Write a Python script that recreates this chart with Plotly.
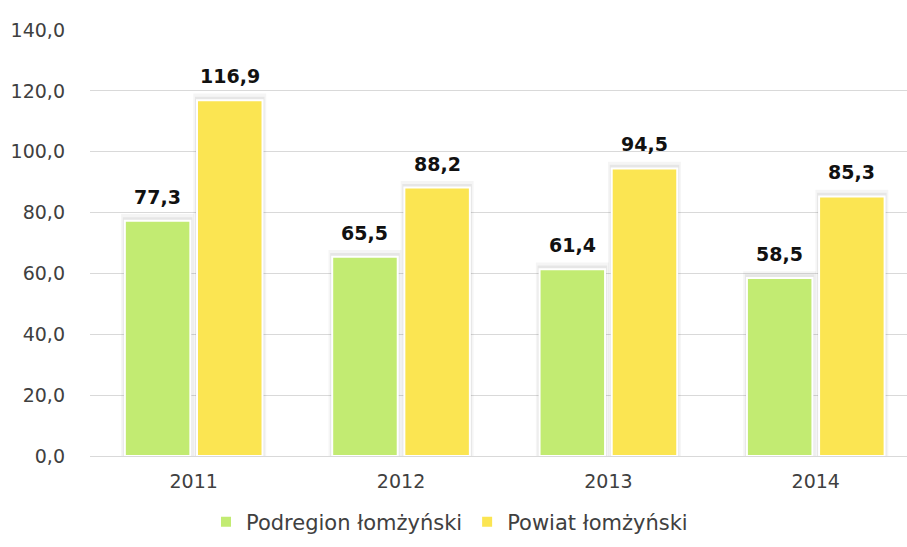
import plotly.graph_objects as go

years = ["2011", "2012", "2013", "2014"]
podregion = [77.3, 65.5, 61.4, 58.5]
powiat = [116.9, 88.2, 94.5, 85.3]
series_names = ["Podregion łomżyński", "Powiat łomżyński"]
y_ticks = [0, 20, 40, 60, 80, 100, 120, 140]

FONT = "'DejaVu Sans', sans-serif"
GREEN = "#C2EB72"
YELLOW = "#FBE552"
BW = 0.316
OFF_G = -0.332
OFF_Y = 0.016
PAD = 0.018

fig = go.Figure()

# soft shadows behind bars
for vals, off in [(podregion, OFF_G), (powiat, OFF_Y)]:
    for k, a in [(2.2, 0.04), (1.2, 0.06)]:
        fig.add_trace(go.Bar(
            x=years, y=[v + k for v in vals], width=BW + 2 * PAD * k / 2.2,
            offset=off - PAD * k / 2.2,
            marker=dict(color=f"rgba(0,0,0,{a})", line=dict(width=0)),
            showlegend=False, hoverinfo="skip",
        ))

for vals, off, col, name in [(podregion, OFF_G, GREEN, series_names[0]),
                             (powiat, OFF_Y, YELLOW, series_names[1])]:
    fig.add_trace(go.Bar(
        x=years, y=vals, width=BW, offset=off, name=name,
        marker=dict(color=col, line=dict(color="white", width=2)),
        hoverinfo="x+y",
    ))
    for i, v in enumerate(vals):
        fig.add_annotation(
            x=i + off + BW / 2, y=v, yanchor="bottom", yshift=11,
            text=f"<b>{v:.1f}</b>".replace(".", ","), showarrow=False,
            font=dict(family=FONT, size=19, color="#111111"),
        )

fig.update_layout(
    width=907, height=547,
    barmode="overlay",
    separators=", ",
    plot_bgcolor="white", paper_bgcolor="white",
    margin=dict(l=90, r=0, t=30, b=91, autoexpand=False),
    font=dict(family=FONT, size=19, color="#404040"),
    legend=dict(orientation="h", x=0.44, xanchor="center", y=-0.155, yanchor="middle",
                font=dict(size=21, color="#404040"), itemwidth=30,
                traceorder="normal"),
    yaxis=dict(range=[0, 140], tickvals=y_ticks, tickformat=".1f",
               gridcolor="#D9D9D9", gridwidth=1.3, zeroline=False,
               showline=False, ticklabelstandoff=24, automargin=False,
               tickfont=dict(size=19, color="#404040")),
    xaxis=dict(type="category", range=[-0.5, 3.44], showgrid=False,
               showline=True, linecolor="#D9D9D9", linewidth=1.3, automargin=False,
               tickfont=dict(size=19, color="#404040"), ticklabelstandoff=8),
)

fig.write_html("out.html", config={"displayModeBar": False},
               post_script="document.body.style.margin='0';document.body.style.overflow='hidden';")
